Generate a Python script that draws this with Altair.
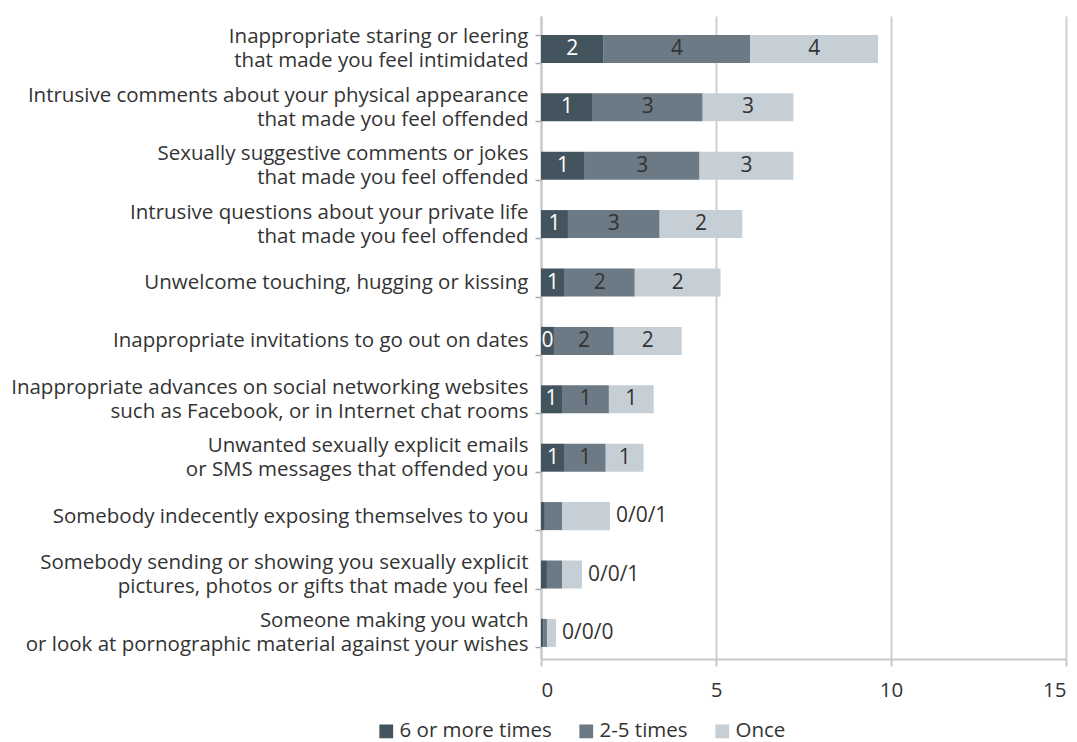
import altair as alt
import pandas as pd

categories = [
    "Inappropriate staring or leering|that made you feel intimidated",
    "Intrusive comments about your physical appearance|that made you feel offended",
    "Sexually suggestive comments or jokes|that made you feel offended",
    "Intrusive questions about your private life|that made you feel offended",
    "Unwelcome touching, hugging or kissing",
    "Inappropriate invitations to go out on dates",
    "Inappropriate advances on social networking websites|such as Facebook, or in Internet chat rooms",
    "Unwanted sexually explicit emails|or SMS messages that offended you",
    "Somebody indecently exposing themselves to you",
    "Somebody sending or showing you sexually explicit|pictures, photos or gifts that made you feel",
    "Someone making you watch|or look at pornographic material against your wishes",
]
series = ["6 or more times", "2-5 times", "Once"]
six_plus = [1.79, 1.48, 1.25, 0.77, 0.68, 0.37, 0.60, 0.68, 0.11, 0.17, 0.06]
two_five = [4.19, 3.14, 3.28, 2.62, 2.00, 1.71, 1.34, 1.17, 0.49, 0.43, 0.11]
once = [3.65, 2.59, 2.68, 2.36, 2.45, 1.94, 1.28, 1.08, 1.37, 0.57, 0.26]
colors = ["#44545f", "#6b7a84", "#c7cfd6"]

rows = []
for i, c in enumerate(categories):
    vals = [six_plus[i], two_five[i], once[i]]
    out = "/".join(str(int(v + 0.5)) for v in vals)
    for j, s in enumerate(series):
        rows.append({"category": c, "series": s, "order": j, "value": vals[j], "outlabel": out})
df = pd.DataFrame(rows)

FONT = "Open Sans"
TXT = "#333333"
FS = 20.5

base = alt.Chart(df).transform_stack(
    stack="value", groupby=["category"], as_=["x0", "x1"], sort=[alt.SortField("order")]
).transform_joinaggregate(total="sum(value)", groupby=["category"])

y_enc = alt.Y(
    "category:N",
    sort=categories,
    title=None,
    scale=alt.Scale(paddingInner=0.52, paddingOuter=0.265, align=0.61),
    axis=alt.Axis(
        labelExpr="split(datum.label, '|')",
        labelFontSize=FS,
        labelFont=FONT,
        labelColor=TXT,
        labelLineHeight=24,
        labelPadding=7,
        labelLimit=620,
        labelOffset={"condition": {"test": "indexof(datum.label, '|') >= 0", "value": -12}, "value": 0},
        tickOffset=-4,
        tickBand="extent",
        tickColor="#a8a8a8",
        tickWidth=1.5,
        tickSize=6,
        domainColor="#c8c8c8",
        domainWidth=2,
    ),
)

bars = base.mark_bar().encode(
    y=y_enc,
    x=alt.X(
        "x0:Q",
        title=None,
        scale=alt.Scale(domain=[0, 15], nice=False),
        axis=alt.Axis(
            values=[0, 5, 10, 15],
            labelFontSize=FS,
            labelFont=FONT,
            labelColor=TXT,
            gridColor="#d0d0d0",
            gridWidth=2,
            domainColor="#c8c8c8",
            domainWidth=2,
            tickColor="#c8c8c8",
            tickWidth=2,
            tickSize=7,
            labelPadding=14,
        ),
    ),
    x2="x1:Q",
    color=alt.Color(
        "series:N",
        sort=series,
        scale=alt.Scale(domain=series, range=colors),
        legend=alt.Legend(
            title=None,
            orient="none",
            direction="horizontal",
            legendX=-165,
            legendY=705,
            symbolType="square",
            symbolSize=190,
            symbolStrokeWidth=0,
            labelFontSize=FS,
            labelFont=FONT,
            labelColor=TXT,
            labelOffset=3,
            columnPadding=24,
        ),
    ),
    order=alt.Order("order:Q"),
)

inside = base.transform_filter("datum.total >= 2.5").transform_calculate(
    mid="(datum.x0 + datum.x1) / 2", lab="format(round(datum.value), 'd')"
).mark_text(fontSize=21, font=FONT).encode(
    y=alt.Y("category:N", sort=categories),
    x="mid:Q",
    text="lab:N",
    color=alt.condition("datum.order == 0", alt.value("#ffffff"), alt.value(TXT)),
)

outside = base.transform_filter("datum.total < 2.5 && datum.order == 2").mark_text(
    fontSize=21, font=FONT, align="left", dx=6, color=TXT
).encode(
    y=alt.Y("category:N", sort=categories),
    x="x1:Q",
    text="outlabel:N",
)

chart = alt.layer(bars, inside, outside).properties(
    width=525,
    height=643,
    autosize=alt.AutoSizeParams(type="none"),
    padding={"left": 533, "top": 8, "right": 3, "bottom": 82},
).configure_view(stroke=None)

chart.save("out.html", embed_options={"renderer": "svg", "actions": False})
